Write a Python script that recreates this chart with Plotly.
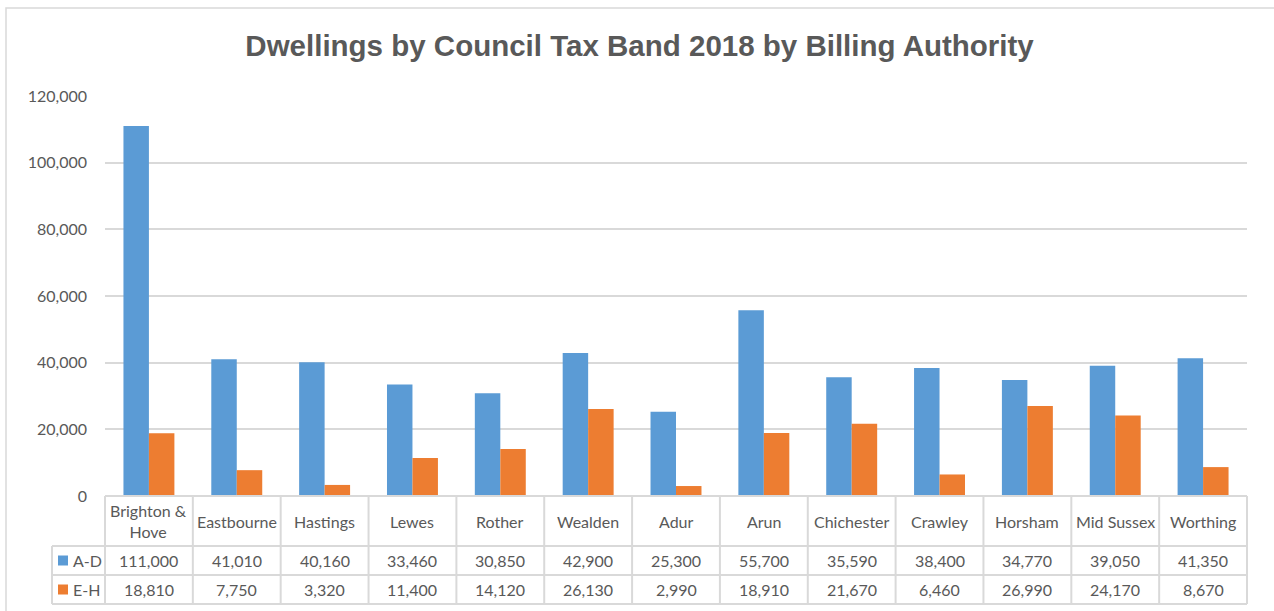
import plotly.graph_objects as go

# Billing authorities and dwelling counts by council tax band group
authorities = ["Brighton &<br>Hove", "Eastbourne", "Hastings", "Lewes", "Rother", "Wealden",
               "Adur", "Arun", "Chichester", "Crawley", "Horsham", "Mid Sussex", "Worthing"]
band_ad = [111000, 41010, 40160, 33460, 30850, 42900, 25300, 55700, 35590, 38400, 34770, 39050, 41350]
band_eh = [18810, 7750, 3320, 11400, 14120, 26130, 2990, 18910, 21670, 6460, 26990, 24170, 8670]
series_names = ["A-D", "E-H"]
y_ticks = [0, 20000, 40000, 60000, 80000, 100000, 120000]

BLUE = "#5B9BD5"
ORANGE = "#ED7D31"
GRID = "#D9D9D9"
TEXT = "#595959"
FONT = "Lato"

W, H = 1274, 611
ML, MR, MT, MB = 105, 27, 96, 115
PW = W - ML - MR
PH = H - MT - MB

cats = list(range(len(authorities)))
fig = go.Figure()
fig.add_bar(x=cats, y=band_ad, name=series_names[0], marker=dict(color=BLUE, line=dict(width=0)))
fig.add_bar(x=cats, y=band_eh, name=series_names[1], marker=dict(color=ORANGE, line=dict(width=0)))


def px_x(p):
    return (p - ML) / PW


def px_y(p):
    return 1 - (p - MT) / PH


n = len(authorities)
shapes = []
annotations = []
line = dict(color=GRID, width=2)

# outer chart frame
shapes.append(dict(type="rect", xref="paper", yref="paper", x0=px_x(6), x1=px_x(1290),
                   y0=px_y(630), y1=px_y(8), line=dict(color=GRID, width=1.5)))

# data table rows
y_head_bot = px_y(546)
y_row1_bot = px_y(575)
y_row2_bot = px_y(604)
x_leg_left = px_x(52)
shapes.append(dict(type="line", xref="paper", yref="paper", x0=0, x1=1, y0=0, y1=0, line=line))
for yy in (y_head_bot, y_row1_bot, y_row2_bot):
    shapes.append(dict(type="line", xref="paper", yref="paper", x0=x_leg_left, x1=1,
                       y0=yy, y1=yy, line=line))
for i in range(n + 1):
    xx = i / n
    shapes.append(dict(type="line", xref="paper", yref="paper", x0=xx, x1=xx,
                       y0=y_row2_bot, y1=0, line=line))
shapes.append(dict(type="line", xref="paper", yref="paper", x0=x_leg_left, x1=x_leg_left,
                   y0=y_row2_bot, y1=y_head_bot, line=line))

tfont = dict(family=FONT, size=16, color=TEXT)
y_head = px_y(521)
y_r1 = px_y(560.5)
y_r2 = px_y(589.5)
for i, name in enumerate(authorities):
    annotations.append(dict(x=i, y=y_head, xref="x", yref="paper", text=name, showarrow=False,
                            font=tfont, xanchor="center", yanchor="middle", align="center"))
    annotations.append(dict(x=i, y=y_r1, xref="x", yref="paper", text=f"{band_ad[i]:,}",
                            showarrow=False, font=tfont, xanchor="center", yanchor="middle"))
    annotations.append(dict(x=i, y=y_r2, xref="x", yref="paper", text=f"{band_eh[i]:,}",
                            showarrow=False, font=tfont, xanchor="center", yanchor="middle"))

# legend keys in the table
for yy, col, label in ((560.5, BLUE, series_names[0]), (589.5, ORANGE, series_names[1])):
    shapes.append(dict(type="rect", xref="paper", yref="paper", x0=px_x(58), x1=px_x(68),
                       y0=px_y(yy + 5), y1=px_y(yy - 5), fillcolor=col, line=dict(width=0)))
    annotations.append(dict(x=px_x(71), y=px_y(yy), xref="paper", yref="paper", text=label,
                            showarrow=False, font=tfont, xanchor="left", yanchor="middle"))

fig.update_layout(
    width=W, height=H,
    margin=dict(l=ML, r=MR, t=MT, b=MB),
    paper_bgcolor="white", plot_bgcolor="white",
    barmode="group", bargap=0.42, bargroupgap=0,
    showlegend=False,
    title=dict(text="<b>Dwellings by Council Tax Band 2018 by Billing Authority</b>",
               x=0.502, xanchor="center", y=1 - 46 / H, yanchor="middle",
               font=dict(family="Liberation Sans", size=29.5, color=TEXT)),
    xaxis=dict(range=[-0.5, n - 0.5], showticklabels=False, showgrid=False,
               zeroline=False, showline=False, ticks=""),
    yaxis=dict(range=[0, 120000], tickvals=y_ticks, tickformat=",", showgrid=True,
               gridcolor=GRID, gridwidth=1.5, zeroline=False, showline=False,
               tickfont=dict(family=FONT, size=16, color=TEXT), ticklabelstandoff=17),
    shapes=shapes,
    annotations=annotations,
)

fig.write_html("out.html")
